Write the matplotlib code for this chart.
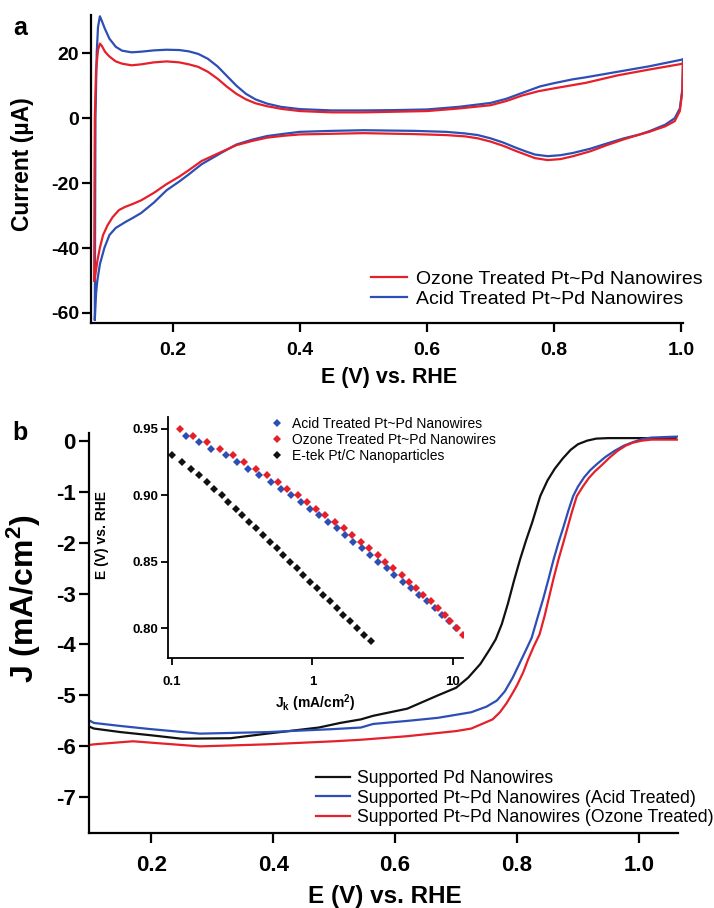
import numpy as np
import matplotlib
matplotlib.use("Agg")
import matplotlib.pyplot as plt
from matplotlib.lines import Line2D

plt.rcParams['font.family'] = ['Liberation Sans', 'DejaVu Sans']
plt.rcParams['axes.unicode_minus'] = False
plt.rcParams['mathtext.fontset'] = 'custom'
plt.rcParams['mathtext.rm'] = 'Liberation Sans:bold'
plt.rcParams['mathtext.it'] = 'Liberation Sans:bold'
plt.rcParams['mathtext.bf'] = 'Liberation Sans:bold'

RED = '#e5202a'
BLUE = '#2d4fb5'
BLACK = '#111111'

# ---------------- Panel a: cyclic voltammograms ----------------
ozone_E = [0.0760, 0.0765, 0.0770, 0.0790, 0.082, 0.085, 0.088, 0.093, 0.100, 0.110, 0.120, 0.135,
           0.150, 0.170, 0.190, 0.210, 0.225, 0.240, 0.255, 0.270, 0.285, 0.300, 0.315, 0.330,
           0.348, 0.370, 0.400, 0.450, 0.500, 0.550, 0.600, 0.650, 0.700, 0.725, 0.750, 0.775,
           0.800, 0.850, 0.900, 0.950, 1.000, 1.003,
           1.002, 0.998, 0.990, 0.975, 0.960, 0.950, 0.935, 0.910, 0.883, 0.857, 0.830, 0.810,
           0.790, 0.770, 0.755, 0.740, 0.720, 0.700, 0.680, 0.660, 0.630, 0.580, 0.500, 0.450,
           0.400, 0.375, 0.348, 0.325, 0.300, 0.275, 0.245, 0.225, 0.210, 0.190, 0.170, 0.150,
           0.137, 0.125, 0.115, 0.105, 0.097, 0.090, 0.085, 0.081, 0.078, 0.0765, 0.0760]
ozone_I = [-50.0, -20.0, 0.0, 15.0, 21.0, 23.0, 22.3, 20.5, 19.0, 17.5, 16.8, 16.3,
           16.6, 17.2, 17.5, 17.2, 16.6, 15.8, 14.3, 12.2, 9.7, 7.5, 5.8, 4.6,
           3.7, 2.9, 2.2, 1.8, 1.8, 2.0, 2.2, 3.0, 4.0, 5.3, 7.0, 8.3,
           9.2, 10.9, 13.2, 15.0, 16.7, 17.0,
           8.3, 2.2, -0.9, -2.5, -3.5, -4.2, -5.0, -6.5, -8.3, -10.2, -11.7, -12.6,
           -12.9, -12.3, -11.2, -10.1, -8.5, -7.2, -6.2, -5.6, -5.2, -4.9, -4.6, -4.8,
           -5.0, -5.4, -6.0, -7.0, -8.3, -10.5, -13.2, -16.0, -18.0, -20.3, -23.0, -25.3,
           -26.4, -27.3, -28.3, -30.5, -33.0, -36.0, -39.9, -44.0, -48.0, -50.0, -50.0]

acid_E = [0.0770, 0.0775, 0.0780, 0.0800, 0.082, 0.085, 0.088, 0.093, 0.100, 0.110, 0.120, 0.135,
          0.150, 0.170, 0.190, 0.210, 0.225, 0.240, 0.255, 0.270, 0.285, 0.300, 0.315, 0.330,
          0.348, 0.370, 0.400, 0.450, 0.500, 0.550, 0.600, 0.650, 0.700, 0.725, 0.750, 0.778,
          0.800, 0.830, 0.850, 0.900, 0.950, 1.000, 1.003,
          1.002, 0.998, 0.990, 0.975, 0.960, 0.950, 0.935, 0.910, 0.883, 0.857, 0.830, 0.810,
          0.790, 0.770, 0.755, 0.740, 0.720, 0.700, 0.680, 0.660, 0.630, 0.580, 0.500, 0.450,
          0.400, 0.375, 0.348, 0.325, 0.300, 0.275, 0.245, 0.225, 0.210, 0.190, 0.170, 0.150,
          0.137, 0.125, 0.110, 0.100, 0.092, 0.085, 0.081, 0.079, 0.078, 0.0770]
acid_I = [-62.0, -30.0, 0.0, 20.0, 28.0, 31.4, 30.0, 27.5, 24.5, 22.0, 20.8, 20.3,
          20.5, 20.9, 21.1, 21.0, 20.6, 19.8, 18.3, 16.0, 13.0, 10.0, 7.5, 5.8,
          4.5, 3.5, 2.8, 2.4, 2.4, 2.5, 2.7, 3.5, 4.7, 6.0, 7.8, 9.8,
          10.8, 12.0, 12.6, 14.3, 16.0, 18.0, 18.2,
          9.0, 3.0, 0.0, -2.0, -3.2, -4.0, -5.0, -6.2, -7.8, -9.4, -10.7, -11.4,
          -11.7, -11.2, -10.2, -9.1, -7.5, -6.2, -5.2, -4.7, -4.2, -3.9, -3.7, -3.9,
          -4.2, -4.8, -5.5, -6.6, -8.1, -10.8, -14.2, -17.3, -19.5, -22.2, -26.0, -29.2,
          -30.7, -32.0, -33.8, -36.0, -40.0, -45.0, -50.0, -54.0, -58.0, -62.0]

# ---------------- Panel b: polarization curves ----------------
pd_E = [0.100, 0.106, 0.150, 0.198, 0.250, 0.330, 0.390, 0.475, 0.510, 0.544, 0.564, 0.620, 0.670,
        0.700, 0.720, 0.740, 0.755, 0.765, 0.775, 0.785, 0.795, 0.805, 0.815, 0.825, 0.838, 0.850,
        0.862, 0.875, 0.888, 0.900, 0.915, 0.930, 0.950, 0.980, 1.020, 1.060]
pd_J = [-5.62, -5.65, -5.72, -5.78, -5.85, -5.84, -5.75, -5.63, -5.54, -5.47, -5.40, -5.26, -5.00,
        -4.85, -4.65, -4.38, -4.10, -3.90, -3.60, -3.20, -2.75, -2.33, -1.95, -1.60, -1.09, -0.78,
        -0.55, -0.35, -0.18, -0.07, 0.00, 0.04, 0.05, 0.05, 0.05, 0.05]

acidb_E = [0.100, 0.106, 0.150, 0.198, 0.280, 0.390, 0.500, 0.544, 0.564, 0.620, 0.670, 0.700, 0.725,
           0.750, 0.767, 0.780, 0.793, 0.803, 0.813, 0.824, 0.833, 0.843, 0.852, 0.860, 0.868, 0.876,
           0.884, 0.892, 0.900, 0.910, 0.920, 0.931, 0.945, 0.960, 0.975, 0.990, 1.005, 1.020, 1.064]
acidb_J = [-5.50, -5.54, -5.60, -5.66, -5.75, -5.72, -5.66, -5.63, -5.56, -5.50, -5.44, -5.38, -5.33,
           -5.22, -5.10, -4.92, -4.65, -4.40, -4.15, -3.87, -3.50, -3.10, -2.70, -2.33, -2.00, -1.70,
           -1.38, -1.09, -0.90, -0.72, -0.58, -0.46, -0.32, -0.20, -0.10, -0.03, 0.03, 0.06, 0.08]

ozoneb_E = [0.100, 0.106, 0.170, 0.280, 0.390, 0.500, 0.544, 0.620, 0.700, 0.725, 0.760, 0.772, 0.783,
            0.793, 0.800, 0.810, 0.818, 0.827, 0.837, 0.845, 0.852, 0.860, 0.868, 0.876, 0.883, 0.890,
            0.898, 0.908, 0.918, 0.928, 0.939, 0.952, 0.965, 0.978, 0.990, 1.005, 1.020, 1.064]
ozoneb_J = [-5.97, -5.96, -5.90, -6.00, -5.96, -5.90, -5.87, -5.80, -5.70, -5.65, -5.47, -5.33, -5.15,
            -4.95, -4.80, -4.55, -4.30, -4.05, -3.80, -3.45, -3.10, -2.70, -2.33, -2.00, -1.70, -1.40,
            -1.09, -0.90, -0.73, -0.60, -0.48, -0.33, -0.20, -0.10, -0.04, 0.00, 0.02, 0.02]

# ---------------- Inset: Tafel data ----------------
tafel_acid_E = [0.945, 0.940, 0.935, 0.930, 0.925, 0.920, 0.915, 0.910, 0.905, 0.900, 0.895, 0.890,
                0.885, 0.880, 0.875, 0.870, 0.865, 0.860, 0.855, 0.850, 0.845, 0.840, 0.835, 0.830,
                0.825, 0.820, 0.815, 0.810, 0.805, 0.800]
tafel_acid_J = [0.125, 0.156, 0.191, 0.241, 0.292, 0.349, 0.418, 0.504, 0.597, 0.703, 0.828, 0.959,
                1.117, 1.282, 1.486, 1.702, 1.950, 2.239, 2.564, 2.938, 3.373, 3.802, 4.385, 5.000,
                5.728, 6.501, 7.447, 8.299, 9.440, 10.60]
tafel_ozone_E = [0.950, 0.945, 0.940, 0.935, 0.930, 0.925, 0.920, 0.915, 0.910, 0.905, 0.900, 0.895,
                 0.890, 0.885, 0.880, 0.875, 0.870, 0.865, 0.860, 0.855, 0.850, 0.845, 0.840, 0.835,
                 0.830, 0.825, 0.820, 0.815, 0.810, 0.805, 0.800, 0.795]
tafel_ozone_J = [0.114, 0.142, 0.177, 0.220, 0.270, 0.327, 0.394, 0.472, 0.565, 0.662, 0.785, 0.918,
                 1.059, 1.227, 1.445, 1.683, 1.901, 2.203, 2.541, 2.911, 3.281, 3.758, 4.315, 4.887,
                 5.458, 6.081, 6.934, 7.852, 8.770, 9.528, 10.62, 11.86]
tafel_etek_E = [0.930, 0.925, 0.920, 0.915, 0.910, 0.905, 0.900, 0.895, 0.890, 0.885, 0.880, 0.875,
                0.870, 0.865, 0.860, 0.855, 0.850, 0.845, 0.840, 0.835, 0.830, 0.825, 0.820, 0.815,
                0.810, 0.805, 0.800, 0.795, 0.790]
tafel_etek_J = [0.100, 0.117, 0.136, 0.156, 0.177, 0.200, 0.226, 0.252, 0.284, 0.316, 0.355, 0.396,
                0.447, 0.499, 0.556, 0.619, 0.692, 0.773, 0.861, 0.959, 1.072, 1.194, 1.334, 1.486,
                1.656, 1.862, 2.089, 2.344, 2.630]

labels_a = ['Ozone Treated Pt~Pd Nanowires', 'Acid Treated Pt~Pd Nanowires']
labels_b = ['Supported Pd Nanowires', 'Supported Pt~Pd Nanowires (Acid Treated)',
            'Supported Pt~Pd Nanowires (Ozone Treated)']
labels_inset = ['Acid Treated Pt~Pd Nanowires', 'Ozone Treated Pt~Pd Nanowires',
                'E-tek Pt/C Nanoparticles']

W, H = 714, 908
fig = plt.figure(figsize=(W / 100, H / 100), dpi=100)


def box(l, t, r, b):
    return [l / W, 1 - b / H, (r - l) / W, (b - t) / H]


def px(x, y):
    return x / W, 1 - y / H


def style(ax, lw, tl, fs, padx, pady):
    for s in ['top', 'right']:
        ax.spines[s].set_visible(False)
    for s in ['left', 'bottom']:
        ax.spines[s].set_linewidth(lw)
    ax.tick_params(direction='out', width=lw, length=tl, labelsize=fs)
    ax.tick_params(axis='x', pad=padx)
    ax.tick_params(axis='y', pad=pady)
    for t in ax.get_xticklabels() + ax.get_yticklabels():
        t.set_fontweight('bold')


# ---- panel a ----
axa = fig.add_axes(box(91, 15, 683, 323))
axa.plot(acid_E, acid_I, color=BLUE, lw=1.6)
axa.plot(ozone_E, ozone_I, color=RED, lw=1.6)
axa.set_xlim(0.071, 1.003)
axa.set_ylim(-63.1, 31.8)
axa.set_xticks([0.2, 0.4, 0.6, 0.8, 1.0])
axa.set_xticklabels(['0.2', '0.4', '0.6', '0.8', '1.0'])
axa.set_yticks([-60, -40, -20, 0, 20])
style(axa, 1.6, 6.5, 14, 7, 2)
handles_a = [Line2D([], [], color=RED, lw=1.6), Line2D([], [], color=BLUE, lw=1.6)]
fig.legend(handles_a, labels_a, loc='upper left', bbox_to_anchor=px(371, 270),
           frameon=False, fontsize=14, handlelength=1.85, handletextpad=0.45,
           borderpad=0, borderaxespad=0, labelspacing=0.12)
fig.text(*px(389, 377), 'E (V) vs. RHE', ha='center', va='center', fontsize=15.5, fontweight='bold')
fig.text(*px(22, 164), 'Current (\u00b5A)', ha='center', va='center', rotation=90,
         fontsize=16.5, fontweight='bold')
fig.text(*px(20, 28), 'a', ha='center', va='center', fontsize=18, fontweight='bold')

# ---- panel b ----
axb = fig.add_axes(box(89, 433, 678, 833))
axb.plot(pd_E, pd_J, color=BLACK, lw=1.6)
axb.plot(acidb_E, acidb_J, color=BLUE, lw=1.6)
axb.plot(ozoneb_E, ozoneb_J, color=RED, lw=1.6)
axb.set_xlim(0.098, 1.064)
axb.set_ylim(-7.7, 0.15)
axb.set_xticks([0.2, 0.4, 0.6, 0.8, 1.0])
axb.set_xticklabels(['0.2', '0.4', '0.6', '0.8', '1.0'])
axb.set_yticks([-7, -6, -5, -4, -3, -2, -1, 0])
style(axb, 1.6, 7.5, 16, 8, 2)
handles_b = [Line2D([], [], color=BLACK, lw=1.6), Line2D([], [], color=BLUE, lw=1.6),
             Line2D([], [], color=RED, lw=1.6)]
fig.legend(handles_b, labels_b, loc='upper left', bbox_to_anchor=px(316, 770),
           frameon=False, fontsize=12.7, handlelength=1.9, handletextpad=0.45,
           borderpad=0, borderaxespad=0, labelspacing=0.15)
fig.text(*px(385, 897), 'E (V) vs. RHE', ha='center', va='center', fontsize=17.5, fontweight='bold')
fig.text(*px(24, 599), 'J (mA/cm$^\\mathregular{2}$)', ha='center', va='center', rotation=90,
         fontsize=23, fontweight='bold')
fig.text(*px(20, 433), 'b', ha='center', va='center', fontsize=18, fontweight='bold')

# ---- inset ----
axi = fig.add_axes(box(168, 417, 463, 658))
axi.set_xscale('log')
axi.plot(tafel_acid_J, tafel_acid_E, 'D', color=BLUE, ms=3.6, mew=0)
axi.plot(tafel_ozone_J, tafel_ozone_E, 'D', color=RED, ms=3.6, mew=0)
axi.plot(tafel_etek_J, tafel_etek_E, 'D', color=BLACK, ms=3.6, mew=0)
axi.set_xlim(0.0937, 11.8)
axi.set_ylim(0.7774, 0.959)
axi.set_xticks([0.1, 1, 10])
axi.set_xticklabels(['0.1', '1', '10'])
axi.xaxis.set_minor_locator(matplotlib.ticker.NullLocator())
axi.set_yticks([0.80, 0.85, 0.90, 0.95])
axi.set_yticklabels(['0.80', '0.85', '0.90', '0.95'])
style(axi, 1.3, 5, 9.5, 8, 2)
axi.patch.set_alpha(0)
handles_i = [Line2D([], [], ls='none', marker='D', color=c, ms=3.6, mew=0) for c in (BLUE, RED, BLACK)]
axi.legend(handles_i, labels_inset, loc='upper left', bbox_to_anchor=((270 - 168) / 295, 1.0),
           frameon=False, fontsize=10, handlelength=1.0, handletextpad=0.6,
           borderpad=0, borderaxespad=0, labelspacing=0.15)
fig.text(*px(315, 703), 'J$_\\mathregular{k}$ (mA/cm$^\\mathregular{2}$)', ha='center', va='center',
         fontsize=10, fontweight='bold')
fig.text(*px(102, 535), 'E (V) vs. RHE', ha='center', va='center', rotation=90,
         fontsize=10, fontweight='bold')

fig.savefig('out.png', dpi=100)
